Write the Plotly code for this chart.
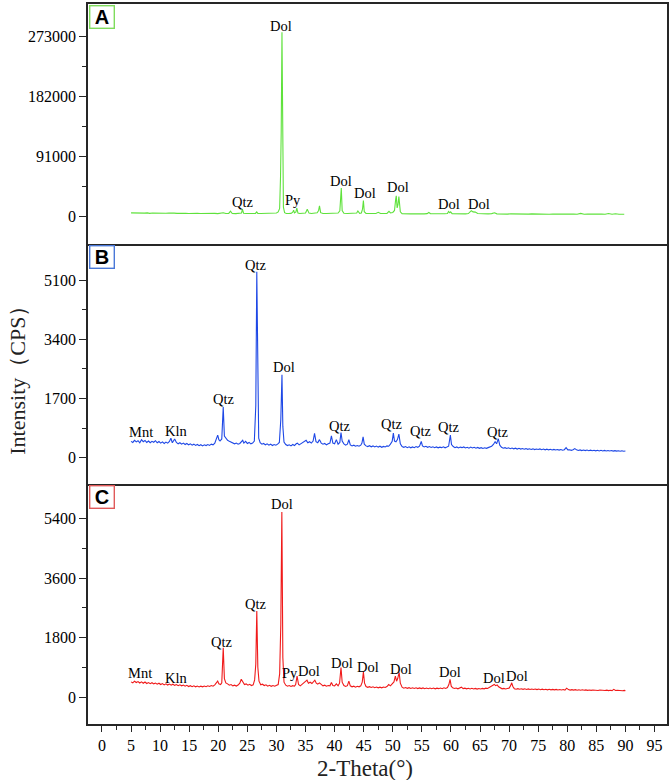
import plotly.graph_objects as go

# XRD patterns: (2-theta, intensity in CPS)
a_pattern = [
    (5.0, 5400), (5.5, 5100), (6.0, 5300), (6.4, 4700), (6.8, 5200), (7.3, 4900), (7.8, 5300), (8.2, 4600),
    (8.7, 5100), (9.2, 4800), (9.6, 5200), (10.1, 4500), (10.6, 5000), (11.0, 4700), (11.5, 5100), (12.0, 4400),
    (12.4, 4900), (12.9, 4600), (13.4, 5000), (13.9, 4400), (14.4, 4800), (14.9, 4500), (15.4, 4900), (15.9, 4300),
    (16.4, 4700), (16.9, 4400), (17.4, 4600), (17.9, 4200), (18.4, 4500), (18.9, 4300), (19.4, 4600), (19.9, 4200),
    (20.4, 4400), (20.85, 5600), (21.3, 4300), (21.8, 4500), (22.1, 7800), (22.4, 4400), (23.0, 4200), (23.6, 4500),
    (24.0, 5200), (24.15, 11000), (24.35, 4800), (24.8, 4300), (25.4, 4400), (26.0, 4200), (26.4, 4600), (26.6, 6900),
    (26.8, 4500), (27.3, 4300), (27.9, 4400), (28.5, 4200), (29.1, 4300), (29.6, 4500), (30.0, 5200), (30.3, 6800),
    (30.55, 12000), (30.7, 60000), (30.82, 128000), (30.95, 280000), (31.05, 90000), (31.2, 14000), (31.4, 5600),
    (31.7, 4500), (32.1, 4300), (32.5, 4600), (32.8, 6500), (32.95, 9500), (33.1, 5200), (33.35, 6800), (33.5, 12600),
    (33.7, 5000), (34.0, 4400), (34.5, 4500), (35.0, 5200), (35.3, 11000), (35.6, 5000), (36.0, 4400), (36.5, 4600),
    (37.0, 5500), (37.25, 9000), (37.4, 16200), (37.6, 5600), (38.0, 4400), (38.6, 4300), (39.2, 4500), (39.7, 4300),
    (40.2, 4600), (40.6, 5200), (40.9, 8500), (41.05, 25000), (41.15, 43000), (41.3, 9000), (41.6, 4800), (42.2, 4400),
    (42.8, 4300), (43.4, 4500), (43.8, 5200), (44.0, 8200), (44.3, 4600), (44.6, 5200), (44.8, 11000), (44.95, 24000),
    (45.1, 7200), (45.4, 4400), (45.9, 4300), (46.5, 4400), (47.1, 4500), (47.5, 6200), (47.9, 4300), (48.5, 4400),
    (49.0, 4600), (49.35, 7600), (49.6, 5400), (50.0, 6000), (50.3, 9000), (50.5, 26000), (50.6, 31400), (50.75, 13000),
    (50.9, 18000), (51.05, 30300), (51.15, 24000), (51.3, 7000), (51.6, 4200), (52.0, 3900), (52.5, 4100), (53.0, 3800),
    (53.6, 4000), (54.2, 3700), (54.8, 3900), (55.4, 3800), (55.9, 4200), (56.2, 6000), (56.5, 4000), (57.1, 3800),
    (57.7, 3900), (58.3, 3700), (58.9, 4000), (59.4, 4300), (59.6, 7600), (59.8, 5500), (59.95, 7000), (60.2, 4200),
    (60.7, 3900), (61.3, 3700), (61.9, 3900), (62.5, 3800), (63.0, 4300), (63.3, 6500), (63.5, 8600), (63.8, 6800),
    (64.2, 6500), (64.6, 4400), (65.2, 4000), (65.8, 3800), (66.4, 3900), (67.0, 4200), (67.5, 5500), (67.9, 3900),
    (68.5, 3600), (69.1, 3800), (69.7, 3500), (70.3, 3900), (70.9, 3600), (71.5, 3800), (72.1, 3500), (72.7, 3700),
    (73.3, 3400), (73.9, 3800), (74.5, 3500), (75.1, 4200), (75.7, 3500), (76.3, 3600), (76.9, 3300), (77.5, 3600),
    (78.1, 3400), (78.7, 3700), (79.3, 3300), (79.9, 3600), (80.5, 3400), (81.1, 3700), (81.7, 3300), (82.3, 4600),
    (82.9, 3300), (83.5, 3500), (84.1, 3200), (84.7, 3500), (85.3, 3300), (85.9, 3400), (86.5, 3200), (87.1, 4300),
    (87.7, 3300), (88.3, 4100), (88.9, 3300), (89.4, 3800), (89.8, 3200),
]

b_pattern = [
    (5.0, 470), (5.3, 440), (5.6, 500), (5.9, 455), (6.2, 490), (6.5, 430), (6.8, 520), (7.1, 460), (7.4, 495),
    (7.7, 440), (8.0, 480), (8.3, 430), (8.6, 470), (8.9, 445), (9.2, 490), (9.5, 430), (9.8, 465), (10.1, 420),
    (10.4, 455), (10.7, 410), (11.0, 450), (11.3, 420), (11.6, 470), (11.85, 560), (12.1, 430), (12.5, 540),
    (12.8, 440), (13.1, 400), (13.4, 430), (13.7, 390), (14.0, 420), (14.3, 380), (14.6, 410), (14.9, 370),
    (15.2, 400), (15.5, 360), (15.8, 390), (16.1, 355), (16.4, 380), (16.7, 345), (17.0, 375), (17.3, 340),
    (17.6, 370), (17.9, 350), (18.2, 380), (18.5, 355), (18.8, 390), (19.1, 370), (19.4, 420), (19.7, 600),
    (19.9, 650), (20.1, 520), (20.3, 480), (20.6, 540), (20.85, 1460), (21.05, 620), (21.3, 560), (21.6, 500),
    (21.9, 470), (22.2, 440), (22.5, 420), (22.8, 400), (23.1, 420), (23.4, 390), (23.7, 410), (24.0, 460),
    (24.2, 500), (24.4, 420), (24.7, 470), (25.0, 410), (25.3, 440), (25.6, 400), (25.9, 420), (26.2, 480),
    (26.45, 1500), (26.62, 5340), (26.8, 1100), (26.95, 560), (27.2, 430), (27.5, 390), (27.8, 410), (28.1, 370),
    (28.4, 400), (28.7, 360), (29.0, 390), (29.3, 350), (29.6, 380), (29.9, 360), (30.2, 390), (30.5, 440),
    (30.75, 1100), (30.95, 2380), (31.1, 900), (31.3, 450), (31.6, 380), (31.9, 350), (32.2, 370), (32.5, 340),
    (32.8, 380), (33.1, 350), (33.4, 400), (33.6, 420), (33.9, 370), (34.2, 400), (34.5, 440), (34.8, 470),
    (35.1, 500), (35.4, 430), (35.7, 460), (36.0, 420), (36.3, 480), (36.55, 697), (36.8, 460), (37.1, 430),
    (37.4, 520), (37.7, 420), (38.0, 390), (38.3, 410), (38.6, 370), (38.9, 400), (39.2, 420), (39.45, 630),
    (39.7, 420), (40.0, 400), (40.3, 520), (40.6, 390), (40.9, 440), (41.1, 725), (41.3, 480), (41.6, 400),
    (41.9, 360), (42.2, 390), (42.45, 516), (42.7, 370), (43.0, 340), (43.3, 360), (43.6, 330), (43.9, 350),
    (44.2, 330), (44.5, 360), (44.7, 420), (44.9, 600), (45.1, 390), (45.4, 340), (45.7, 320), (46.0, 345),
    (46.3, 315), (46.6, 340), (46.9, 310), (47.2, 335), (47.5, 305), (47.8, 330), (48.1, 300), (48.4, 325),
    (48.7, 310), (49.0, 340), (49.3, 330), (49.6, 390), (49.9, 470), (50.1, 708), (50.3, 480), (50.55, 460),
    (50.8, 520), (51.05, 680), (51.3, 400), (51.6, 320), (51.9, 300), (52.2, 320), (52.5, 290), (52.8, 315),
    (53.1, 285), (53.4, 310), (53.7, 290), (54.0, 320), (54.3, 300), (54.6, 330), (54.9, 467), (55.1, 340),
    (55.4, 310), (55.7, 330), (56.0, 300), (56.3, 320), (56.6, 295), (56.9, 315), (57.2, 290), (57.5, 310),
    (57.8, 285), (58.1, 305), (58.4, 290), (58.7, 315), (59.0, 285), (59.3, 305), (59.6, 330), (59.9, 650),
    (60.1, 380), (60.4, 320), (60.7, 290), (61.0, 310), (61.3, 280), (61.6, 305), (61.9, 290), (62.2, 310),
    (62.5, 280), (62.8, 300), (63.1, 275), (63.4, 305), (63.7, 280), (64.0, 300), (64.3, 275), (64.6, 295),
    (64.9, 270), (65.2, 290), (65.5, 265), (65.8, 285), (66.1, 270), (66.4, 290), (66.7, 300), (67.0, 330),
    (67.3, 380), (67.6, 460), (67.85, 400), (68.15, 545), (68.4, 360), (68.7, 300), (69.0, 275), (69.3, 290),
    (69.6, 265), (69.9, 285), (70.2, 260), (70.5, 280), (70.8, 255), (71.1, 275), (71.4, 250), (71.7, 270),
    (72.0, 248), (72.3, 265), (72.6, 245), (72.9, 262), (73.2, 240), (73.5, 258), (73.8, 238), (74.1, 255),
    (74.4, 235), (74.7, 250), (75.0, 235), (75.3, 252), (75.6, 232), (75.9, 248), (76.2, 228), (76.5, 245),
    (76.8, 225), (77.1, 242), (77.4, 222), (77.7, 240), (78.0, 222), (78.3, 236), (78.6, 218), (78.9, 234),
    (79.2, 215), (79.5, 232), (79.8, 290), (80.1, 225), (80.4, 230), (80.7, 212), (81.0, 228), (81.3, 262),
    (81.6, 226), (81.9, 208), (82.2, 224), (82.5, 205), (82.8, 222), (83.1, 204), (83.4, 220), (83.7, 202),
    (84.0, 218), (84.3, 200), (84.6, 216), (84.9, 198), (85.2, 214), (85.5, 196), (85.8, 212), (86.1, 195),
    (86.4, 210), (86.7, 194), (87.0, 208), (87.3, 192), (87.6, 206), (87.9, 190), (88.2, 204), (88.5, 190),
    (88.8, 202), (89.1, 188), (89.4, 200), (89.7, 186), (90.0, 195),
]

c_pattern = [
    (5.0, 460), (5.3, 430), (5.6, 480), (5.9, 440), (6.2, 470), (6.5, 425), (6.8, 460), (7.1, 420), (7.4, 455),
    (7.7, 410), (8.0, 440), (8.3, 405), (8.6, 435), (8.9, 400), (9.2, 425), (9.5, 390), (9.8, 420), (10.1, 380),
    (10.4, 410), (10.7, 370), (11.0, 400), (11.3, 365), (11.6, 395), (11.9, 360), (12.2, 390), (12.5, 355),
    (12.8, 380), (13.1, 345), (13.4, 370), (13.7, 340), (14.0, 365), (14.3, 330), (14.6, 355), (14.9, 320),
    (15.2, 345), (15.5, 315), (15.8, 340), (16.1, 310), (16.4, 335), (16.7, 305), (17.0, 330), (17.3, 310),
    (17.6, 335), (17.9, 315), (18.2, 340), (18.5, 320), (18.8, 350), (19.1, 330), (19.4, 370), (19.7, 420),
    (19.9, 482), (20.1, 400), (20.4, 380), (20.6, 430), (20.85, 1490), (21.05, 560), (21.3, 430), (21.6, 400),
    (21.9, 360), (22.2, 380), (22.5, 340), (22.8, 360), (23.1, 335), (23.4, 365), (23.7, 420), (23.95, 540),
    (24.2, 470), (24.5, 380), (24.8, 400), (25.1, 360), (25.4, 385), (25.7, 350), (26.0, 370), (26.25, 520),
    (26.45, 1000), (26.62, 2600), (26.8, 900), (27.0, 480), (27.3, 370), (27.6, 390), (27.9, 350), (28.2, 370),
    (28.5, 330), (28.8, 355), (29.1, 325), (29.4, 350), (29.7, 330), (30.0, 350), (30.3, 380), (30.55, 700),
    (30.75, 2200), (30.93, 5600), (31.1, 1200), (31.3, 450), (31.6, 360), (31.9, 330), (32.2, 350), (32.5, 320),
    (32.8, 345), (33.1, 330), (33.3, 380), (33.55, 633), (33.8, 380), (34.1, 340), (34.4, 390), (34.7, 430),
    (35.0, 460), (35.25, 512), (35.5, 420), (35.8, 450), (36.1, 410), (36.35, 460), (36.6, 512), (36.85, 420),
    (37.1, 390), (37.4, 430), (37.7, 370), (38.0, 340), (38.3, 360), (38.6, 330), (38.9, 350), (39.2, 340),
    (39.45, 440), (39.7, 350), (40.0, 340), (40.3, 400), (40.6, 340), (40.85, 420), (41.1, 895), (41.3, 450),
    (41.6, 350), (41.9, 320), (42.2, 345), (42.45, 482), (42.7, 340), (43.0, 310), (43.3, 330), (43.6, 300),
    (43.9, 325), (44.2, 310), (44.5, 340), (44.75, 450), (44.95, 754), (45.15, 420), (45.4, 320), (45.7, 295),
    (46.0, 315), (46.3, 290), (46.6, 310), (46.9, 285), (47.2, 305), (47.5, 280), (47.8, 300), (48.1, 280),
    (48.4, 305), (48.7, 290), (49.0, 320), (49.3, 380), (49.6, 340), (49.9, 420), (50.2, 460), (50.45, 633),
    (50.65, 480), (50.85, 560), (51.1, 744), (51.3, 420), (51.6, 300), (51.9, 270), (52.2, 290), (52.5, 265),
    (52.8, 285), (53.1, 262), (53.4, 282), (53.7, 260), (54.0, 280), (54.3, 258), (54.6, 278), (54.9, 256),
    (55.2, 276), (55.5, 255), (55.8, 275), (56.1, 254), (56.4, 274), (56.7, 252), (57.0, 272), (57.3, 250),
    (57.6, 270), (57.9, 255), (58.2, 275), (58.5, 255), (58.8, 280), (59.1, 260), (59.4, 290), (59.65, 380),
    (59.85, 533), (60.05, 330), (60.3, 280), (60.6, 260), (60.9, 275), (61.2, 250), (61.5, 270), (61.8, 300),
    (62.1, 255), (62.4, 270), (62.7, 250), (63.0, 265), (63.3, 245), (63.6, 265), (63.9, 245), (64.2, 262),
    (64.5, 242), (64.8, 260), (65.1, 245), (65.4, 262), (65.7, 250), (66.0, 270), (66.3, 260), (66.6, 290),
    (66.9, 320), (67.2, 340), (67.45, 382), (67.7, 345), (67.95, 370), (68.2, 310), (68.5, 270), (68.8, 250),
    (69.1, 262), (69.4, 245), (69.7, 260), (70.0, 270), (70.25, 340), (70.45, 432), (70.65, 320), (70.9, 255),
    (71.2, 240), (71.5, 255), (71.8, 236), (72.1, 252), (72.4, 234), (72.7, 250), (73.0, 232), (73.3, 248),
    (73.6, 232), (73.9, 246), (74.2, 228), (74.5, 244), (74.8, 226), (75.1, 242), (75.4, 224), (75.7, 240),
    (76.0, 222), (76.3, 238), (76.6, 220), (76.9, 236), (77.2, 220), (77.5, 234), (77.8, 218), (78.1, 232),
    (78.4, 216), (78.7, 230), (79.0, 216), (79.3, 228), (79.6, 214), (79.9, 270), (80.2, 226), (80.5, 212),
    (80.8, 226), (81.1, 210), (81.4, 224), (81.7, 208), (82.0, 222), (82.3, 206), (82.6, 220), (82.9, 205),
    (83.2, 218), (83.5, 204), (83.8, 216), (84.1, 203), (84.4, 214), (84.7, 202), (85.0, 213), (85.3, 200),
    (85.6, 212), (85.9, 200), (86.2, 210), (86.5, 198), (86.8, 209), (87.1, 196), (87.4, 208), (87.7, 196),
    (88.0, 235), (88.3, 200), (88.6, 206), (88.9, 194), (89.2, 205), (89.5, 192), (89.8, 203), (90.0, 196),
]

# mineral labels: text, 2-theta, intensity where the label sits
a_lbl = ["Dol", "Qtz", "Py", "Dol", "Dol", "Dol", "Dol", "Dol"]
a_lbl_x = [30.8, 24.3, 32.9, 41.1, 45.2, 50.9, 59.6, 64.9]
a_lbl_y = [289700, 21200, 24300, 53100, 34900, 44000, 18200, 18200]

b_lbl = ["Mnt", "Kln", "Qtz", "Qtz", "Dol", "Qtz", "Qtz", "Qtz", "Qtz", "Qtz"]
b_lbl_x = [6.7, 12.8, 21.0, 26.5, 31.3, 41.0, 49.9, 54.8, 59.7, 68.1]
b_lbl_y = [726, 774, 1683, 5533, 2609, 898, 966, 754, 869, 745]

c_lbl = ["Mnt", "Kln", "Qtz", "Qtz", "Dol", "Py", "Dol", "Dol", "Dol", "Dol", "Dol", "Dol", "Dol"]
c_lbl_x = [6.5, 12.9, 20.6, 26.5, 30.9, 32.3, 35.6, 41.3, 45.7, 51.4, 59.8, 67.4, 71.4]
c_lbl_y = [714, 563, 1667, 2804, 5840, 733, 794, 1035, 915, 864, 764, 583, 643]

# axis ticks
a_ticks = [0, 91000, 182000, 273000]
a_minor = [45500, 136500, 227500]
b_ticks = [0, 1700, 3400, 5100]
b_minor = [850, 2550, 4250]
c_ticks = [0, 1800, 3600, 5400]
c_minor = [900, 2700, 4500]

panels = [
    ("A", a_pattern, a_lbl, a_lbl_x, a_lbl_y, a_ticks, a_minor, [-42500, 323000], "#5fe23c", "#7fdc5c"),
    ("B", b_pattern, b_lbl, b_lbl_x, b_lbl_y, b_ticks, b_minor, [-745, 6130], "#1e48e6", "#4a78d8"),
    ("C", c_pattern, c_lbl, c_lbl_x, c_lbl_y, c_ticks, c_minor, [-814, 6455], "#f01a1a", "#e05a5a"),
]
domains = [[0.6662, 1.0], [0.3338, 0.6662], [0.0, 0.3338]]

serif = "Liberation Serif, Times New Roman, serif"
frame = "#262626"

fig = go.Figure()
annotations = []
layout = {}

for k, (letter, pattern, lbl, lx, ly, ticks, minor, yrange, lc, bc) in enumerate(panels):
    sfx = "" if k == 0 else str(k + 1)
    theta = [p[0] for p in pattern]
    cps = [p[1] for p in pattern]
    fig.add_trace(go.Scatter(x=theta, y=cps, mode="lines", line=dict(color=lc, width=1.1),
                             xaxis="x" + sfx, yaxis="y" + sfx, showlegend=False))

    bottom = (k == 2)
    layout["xaxis" + sfx] = dict(
        domain=[0, 1], anchor="y" + sfx, range=[-2.4, 97.15],
        # top panel draws its top and bottom border, the others only the bottom one
        showline=True, mirror=(k == 0), linecolor=frame, linewidth=1.6,
        showgrid=False, zeroline=False,
        showticklabels=bottom, ticks="outside" if bottom else "",
        tick0=0, dtick=5, ticklen=6, tickwidth=1.3, tickcolor=frame,
        minor=dict(dtick=2.5, tick0=0, ticks="outside" if bottom else "", ticklen=4,
                   tickwidth=1.2, tickcolor=frame, showgrid=False),
        tickfont=dict(family=serif, size=16, color="black"),
        matches=None if k == 0 else "x",
    )
    layout["yaxis" + sfx] = dict(
        domain=domains[k], anchor="x" + sfx, range=yrange,
        showline=True, mirror=True, linecolor=frame, linewidth=1.6,
        showgrid=False, zeroline=False,
        tickmode="array", tickvals=ticks, ticktext=[str(t) for t in ticks],
        ticks="outside", ticklen=7, tickwidth=1.3, tickcolor=frame,
        minor=dict(tickvals=minor, ticks="outside", ticklen=4, tickwidth=1.2,
                   tickcolor=frame, showgrid=False),
        tickfont=dict(family=serif, size=16, color="black"),
    )

    for t, x, y in zip(lbl, lx, ly):
        annotations.append(dict(text=t, x=x, y=y, xref="x" + sfx, yref="y" + sfx,
                                showarrow=False, font=dict(family=serif, size=14.5, color="black")))

    annotations.append(dict(
        text="<b>%s</b>" % letter, xref="paper", yref="paper", x=0, y=domains[k][1],
        xanchor="left", yanchor="top", xshift=1, yshift=-1, showarrow=False,
        width=21, height=19, borderpad=1, borderwidth=1.4, bordercolor=bc, bgcolor="white",
        font=dict(family="Liberation Sans, Arial, sans-serif", size=20, color="black"),
    ))

annotations.append(dict(text="Intensity（CPS）", xref="paper", yref="paper", x=-0.121, y=0.485,
                        xanchor="center", yanchor="middle", textangle=-90, showarrow=False,
                        font=dict(family=serif, size=22, color="#222")))
annotations.append(dict(text="2-Theta(°)", xref="paper", yref="paper", x=0.478, y=-0.062,
                        xanchor="center", yanchor="middle", showarrow=False,
                        font=dict(family=serif, size=23, color="#222")))

fig.update_layout(
    width=671, height=780,
    margin=dict(l=88, r=3, t=2, b=56),
    paper_bgcolor="white", plot_bgcolor="white",
    annotations=annotations,
    **layout,
)

# the page body has a default 8px margin; drop it so the figure sits at the window corner
fig.write_html("out.html", config={"displayModeBar": False},
               post_script="document.body.style.margin='0';")
